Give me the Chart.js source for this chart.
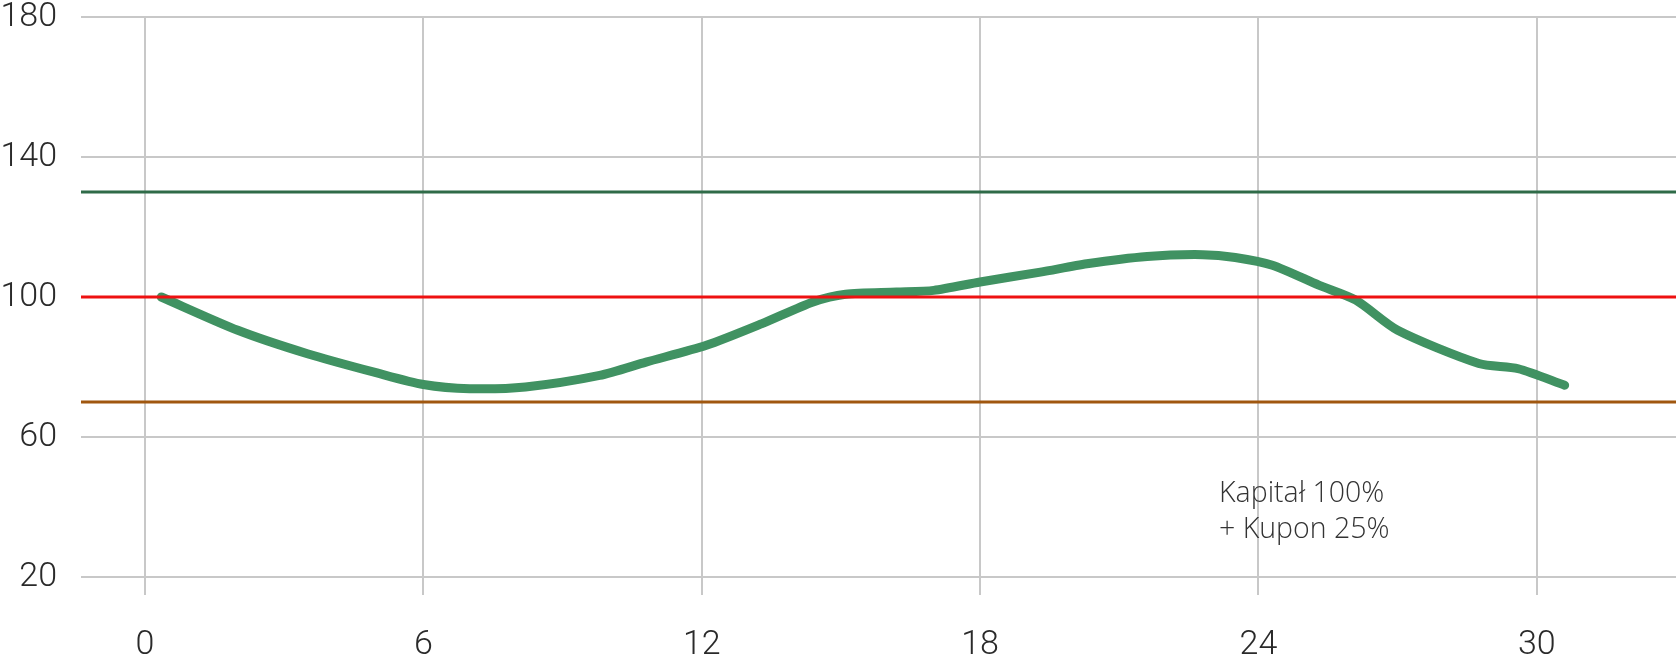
<!DOCTYPE html>
<html lang="pl">
<head>
    <meta charset="utf-8">
    <title>Kapitał</title>
    <style>
        html, body { margin: 0; padding: 0; background: #fff; }
        #chartContainer { width: 1676px; height: 659px; }
    </style>
</head>
<body>
<div id="chartContainer">
    <canvas id="myChart"></canvas>
</div>
<script src="https://cdn.jsdelivr.net/npm/chart.js@4.4.0/dist/chart.umd.min.js"></script>
<script>
    // values
    var months = [0.35, 2, 3.5, 5, 6, 7, 8.2, 9.8, 10.8, 12.1, 13.3, 14.4, 15.1, 16.2, 17, 18, 19.3, 20.3, 21.6, 22.8, 23.5, 24.3, 25.3, 26.1, 27, 28.75, 29.6, 30.6];
    var values = [100, 90.5, 83.8, 78.3, 75.0, 73.8, 74.3, 77.6, 81.4, 86.2, 92.4, 98.6, 100.8, 101.4, 101.9, 104.3, 107.1, 109.5, 111.6, 112.1, 111.3, 109.1, 103.4, 99.1, 90.5, 81, 79.5, 74.8];
    var levels = [130, 100, 70];
    var levelColors = ['#2f6b48', '#ee1111', '#a0570f'];
    var xTicks = [0, 6, 12, 18, 24, 30];
    var yTicks = [20, 60, 100, 140, 180];
    var xMin = -1.38, xMax = 33;
    var noteLines = ['Kapitał 100%', '+ Kupon 25%'];
    var notePos = {x: 23.15, y: 41.4};

    var fontFamily = "Roboto, 'Open Sans', sans-serif";
    var noteFont = "'Open Sans', Roboto, sans-serif";
    var gridColor = '#c8c8c8';

    var datasets = [];
    for (var i = 0; i < levels.length; i++) {
        datasets.push({
            data: [{x: xMin, y: levels[i]}, {x: xMax, y: levels[i]}],
            borderColor: levelColors[i],
            borderWidth: 3,
            pointRadius: 0,
            tension: 0
        });
    }
    var points = [];
    for (var j = 0; j < months.length; j++) {
        points.push({x: months[j], y: values[j]});
    }
    datasets.push({
        data: points,
        borderColor: '#409262',
        borderWidth: 9,
        borderCapStyle: 'round',
        borderJoinStyle: 'round',
        pointRadius: 0,
        tension: 0.25
    });

    var notePlugin = {
        id: 'note',
        afterDatasetsDraw: function (chart) {
            var c = chart.ctx;
            var px = chart.scales.x.getPixelForValue(notePos.x);
            var py = chart.scales.y.getPixelForValue(notePos.y);
            c.save();
            c.font = '300 28.5px ' + noteFont;
            c.fillStyle = '#333';
            c.textBaseline = 'alphabetic';
            c.textAlign = 'left';
            for (var k = 0; k < noteLines.length; k++) {
                c.fillText(noteLines[k], px, py + k * 36);
            }
            c.restore();
        }
    };

    var ctx = document.getElementById('myChart');
    var chart = new Chart(ctx, {
        type: 'line',
        data: {datasets: datasets},
        plugins: [notePlugin],
        options: {
            responsive: true,
            maintainAspectRatio: false,
            animation: false,
            layout: {autoPadding: false, padding: {top: 17, left: 0, right: 0, bottom: 0}},
            plugins: {legend: {display: false}, tooltip: {enabled: false}},
            scales: {
                x: {
                    type: 'linear',
                    min: xMin,
                    max: xMax,
                    border: {display: false},
                    afterBuildTicks: function (axis) {
                        axis.ticks = xTicks.map(function (v) { return {value: v}; });
                    },
                    afterFit: function (axis) {
                        axis.height = 82;
                        axis.paddingLeft = 0;
                        axis.paddingRight = 0;
                    },
                    grid: {color: gridColor, lineWidth: 2, tickLength: 18, drawTicks: true},
                    ticks: {
                        color: '#2a2a2a',
                        font: {family: fontFamily, size: 34, weight: 300},
                        padding: 30,
                        maxRotation: 0
                    }
                },
                y: {
                    min: 20,
                    max: 180,
                    border: {display: false},
                    afterBuildTicks: function (axis) {
                        axis.ticks = yTicks.map(function (v) { return {value: v}; });
                    },
                    afterFit: function (axis) {
                        axis.width = 81;
                        axis.paddingTop = 0;
                        axis.paddingBottom = 0;
                    },
                    grid: {color: gridColor, lineWidth: 2, drawTicks: false},
                    ticks: {
                        color: '#2a2a2a',
                        font: {family: fontFamily, size: 34, weight: 300},
                        padding: 24
                    }
                }
            }
        }
    });
</script>
</body>
</html>
